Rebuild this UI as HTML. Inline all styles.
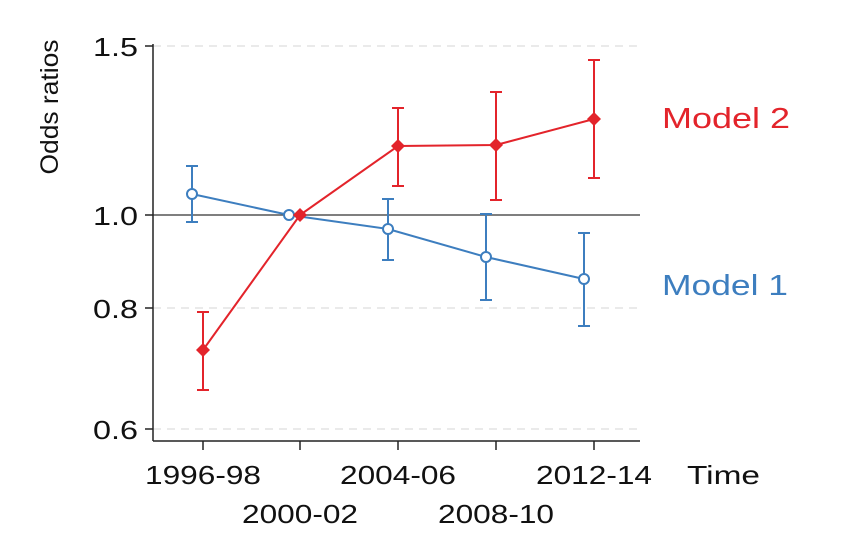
<!DOCTYPE html>
<html><head><meta charset="utf-8"><style>
html,body{margin:0;padding:0;background:#fff;}
svg{display:block;font-family:"Liberation Sans",sans-serif;}
</style></head><body>
<svg width="850" height="540" viewBox="0 0 850 540" xmlns="http://www.w3.org/2000/svg">
<rect width="850" height="540" fill="#fff"/>
<g stroke="#ddd" stroke-width="1.2" stroke-dasharray="8,6">
<line x1="153" y1="46" x2="640" y2="46"/>
<line x1="153" y1="308" x2="640" y2="308"/>
<line x1="153" y1="429" x2="640" y2="429"/>
</g>
<line x1="153" y1="215" x2="640" y2="215" stroke="#555" stroke-width="1.5"/>
<g stroke="#222" stroke-width="1.5">
<line x1="153" y1="44" x2="153" y2="441"/>
<line x1="153" y1="441" x2="640" y2="441"/>
<line x1="145" y1="46" x2="153" y2="46"/><line x1="145" y1="215" x2="153" y2="215"/>
<line x1="145" y1="308" x2="153" y2="308"/><line x1="145" y1="429" x2="153" y2="429"/>
<line x1="203" y1="441" x2="203" y2="450"/><line x1="300" y1="441" x2="300" y2="450"/>
<line x1="398" y1="441" x2="398" y2="450"/><line x1="496" y1="441" x2="496" y2="450"/>
<line x1="594" y1="441" x2="594" y2="450"/>
</g>
<g font-size="26" fill="#111">
<text x="93" y="56" textLength="45" lengthAdjust="spacingAndGlyphs">1.5</text>
<text x="93" y="225" textLength="45" lengthAdjust="spacingAndGlyphs">1.0</text>
<text x="93" y="318" textLength="45" lengthAdjust="spacingAndGlyphs">0.8</text>
<text x="93" y="439" textLength="45" lengthAdjust="spacingAndGlyphs">0.6</text>
</g>
<g font-size="26" fill="#111">
<text x="145" y="484" textLength="116" lengthAdjust="spacingAndGlyphs">1996-98</text>
<text x="242" y="523" textLength="116" lengthAdjust="spacingAndGlyphs">2000-02</text>
<text x="340" y="484" textLength="116" lengthAdjust="spacingAndGlyphs">2004-06</text>
<text x="438" y="523" textLength="116" lengthAdjust="spacingAndGlyphs">2008-10</text>
<text x="536" y="484" textLength="116" lengthAdjust="spacingAndGlyphs">2012-14</text>
<text x="687" y="484" textLength="73" lengthAdjust="spacingAndGlyphs">Time</text>
</g>
<text transform="translate(58,107) rotate(-90)" font-size="25" fill="#111" text-anchor="middle" textLength="135" lengthAdjust="spacingAndGlyphs">Odds ratios</text>
<!-- Model 1 blue -->
<g stroke="#3d7ebf" stroke-width="2" fill="none">
<line x1="192" y1="166" x2="192" y2="222"/><line x1="186" y1="166" x2="198" y2="166"/><line x1="186" y1="222" x2="198" y2="222"/>
<line x1="388" y1="199" x2="388" y2="260"/><line x1="382" y1="199" x2="394" y2="199"/><line x1="382" y1="260" x2="394" y2="260"/>
<line x1="486" y1="214" x2="486" y2="300"/><line x1="480" y1="214" x2="492" y2="214"/><line x1="480" y1="300" x2="492" y2="300"/>
<line x1="584" y1="233" x2="584" y2="326"/><line x1="578" y1="233" x2="590" y2="233"/><line x1="578" y1="326" x2="590" y2="326"/>
<polyline points="192,194 289,215 388,229 486,257 584,279"/>
</g>
<g stroke="#3d7ebf" stroke-width="2" fill="#fff">
<circle cx="192" cy="194" r="5"/><circle cx="289" cy="215" r="5"/><circle cx="388" cy="229" r="5"/>
<circle cx="486" cy="257" r="5"/><circle cx="584" cy="279" r="5"/>
</g>
<!-- Model 2 red -->
<g stroke="#e3242b" stroke-width="2" fill="none">
<line x1="203" y1="312" x2="203" y2="390"/><line x1="197" y1="312" x2="209" y2="312"/><line x1="197" y1="390" x2="209" y2="390"/>
<line x1="398" y1="108" x2="398" y2="186"/><line x1="392" y1="108" x2="404" y2="108"/><line x1="392" y1="186" x2="404" y2="186"/>
<line x1="496" y1="92" x2="496" y2="200"/><line x1="490" y1="92" x2="502" y2="92"/><line x1="490" y1="200" x2="502" y2="200"/>
<line x1="594" y1="60" x2="594" y2="178"/><line x1="588" y1="60" x2="600" y2="60"/><line x1="588" y1="178" x2="600" y2="178"/>
<polyline points="203,350 300,215 398,146 496,145 594,119"/>
</g>
<g fill="#e3242b">
<polygon points="203,343 210,350 203,357 196,350"/>
<polygon points="300,208 307,215 300,222 293,215"/>
<polygon points="398,139 405,146 398,153 391,146"/>
<polygon points="496,138 503,145 496,152 489,145"/>
<polygon points="594,112 601,119 594,126 587,119"/>
</g>
<text x="662" y="128" font-size="29" fill="#e3242b" textLength="128" lengthAdjust="spacingAndGlyphs">Model 2</text>
<text x="662" y="295" font-size="29" fill="#3d7ebf" textLength="126" lengthAdjust="spacingAndGlyphs">Model 1</text>
</svg>
</body></html>
